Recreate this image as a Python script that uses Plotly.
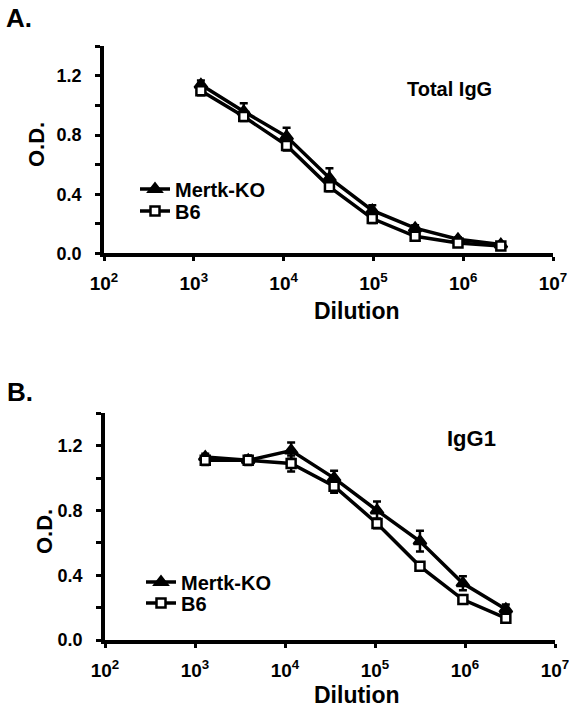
import plotly.graph_objects as go

# ---------------- data ----------------
dilution_a = [1200, 3600, 10800, 32400, 97200, 291600, 874800, 2624400]
mertk_a = [1.14, 0.96, 0.79, 0.51, 0.29, 0.17, 0.095, 0.06]
mertk_a_err = [0.03, 0.055, 0.06, 0.065, 0.035, 0.02, 0.012, 0.01]
b6_a = [1.10, 0.925, 0.73, 0.45, 0.235, 0.115, 0.07, 0.05]
b6_a_err = [0.03, 0.03, 0.035, 0.03, 0.03, 0.02, 0.01, 0.01]

dilution_b = [1300, 3900, 11700, 35100, 105300, 315900, 947700, 2843100]
mertk_b = [1.13, 1.11, 1.17, 1.00, 0.80, 0.61, 0.35, 0.19]
mertk_b_err = [0.02, 0.02, 0.05, 0.045, 0.055, 0.064, 0.043, 0.03]
b6_b = [1.11, 1.11, 1.09, 0.95, 0.72, 0.455, 0.25, 0.135]
b6_b_err = [0.03, 0.03, 0.05, 0.04, 0.03, 0.025, 0.025, 0.02]

x_tickvals = [1e2, 1e3, 1e4, 1e5, 1e6, 1e7]
x_ticktext = ["10<sup>2</sup>", "10<sup>3</sup>", "10<sup>4</sup>",
              "10<sup>5</sup>", "10<sup>6</sup>", "10<sup>7</sup>"]
y_tickvals = [0.0, 0.2, 0.4, 0.6, 0.8, 1.0, 1.2, 1.4]
y_ticktext = ["0.0", "", "0.4", "", "0.8", "", "1.2", ""]

series_names = ["Mertk-KO", "B6"]
panel_titles = ["Total IgG", "IgG1"]
panel_labels = ["A.", "B."]

# ---------------- figure ----------------
W, H = 569, 707
FONT = "Liberation Sans, Arial, Helvetica, sans-serif"

def px(x):
    return x / W

def py(y):
    return 1 - y / H

fig = go.Figure()

def add_series(x, y, err, name, xa, ya, legend, filled):
    fig.add_trace(go.Scatter(
        x=x, y=y, name=name, mode="lines+markers",
        xaxis=xa, yaxis=ya, legend=legend,
        line=dict(color="black", width=3.5),
        marker=dict(
            symbol="triangle-up" if filled else "square",
            size=11 if filled else 9,
            color="black" if filled else "white",
            line=dict(color="black", width=2.5),
        ),
        error_y=dict(type="data", array=err, visible=True,
                     color="black", thickness=2.5, width=4),
    ))

add_series(dilution_a, mertk_a, mertk_a_err, series_names[0], "x", "y", "legend", True)
add_series(dilution_a, b6_a, b6_a_err, series_names[1], "x", "y", "legend2", False)
add_series(dilution_b, mertk_b, mertk_b_err, series_names[0], "x2", "y2", "legend3", True)
add_series(dilution_b, b6_b, b6_b_err, series_names[1], "x2", "y2", "legend4", False)

xaxis_common = dict(
    type="log", range=[2, 7], tickvals=x_tickvals, ticktext=x_ticktext,
    showline=True, linecolor="black", linewidth=3.5, mirror=False,
    ticks="outside", ticklen=4, tickwidth=3, tickcolor="black",
    showgrid=False, zeroline=False, automargin=False,
    ticklabeloverflow="allow",
    tickfont=dict(family=FONT, size=19, color="black", weight="bold"),
    ticklabelstandoff=6,
)
yaxis_common = dict(
    range=[0, 1.4], tickvals=y_tickvals, ticktext=y_ticktext,
    showline=True, linecolor="black", linewidth=3.5, mirror=False,
    ticks="outside", ticklen=5, tickwidth=3, tickcolor="black",
    showgrid=False, zeroline=False, automargin=False,
    ticklabeloverflow="allow",
    tickfont=dict(family=FONT, size=18, color="black", weight="bold"),
    ticklabelstandoff=10,
)

LEG_FONT = dict(family=FONT, size=20, color="black", weight="bold")

def leg(x, y):
    return dict(x=px(x), y=py(y), xanchor="left", yanchor="middle",
                bgcolor="rgba(0,0,0,0)", font=LEG_FONT)

fig.update_layout(
    width=W, height=H,
    margin=dict(l=0, r=0, t=0, b=0, autoexpand=False),
    paper_bgcolor="white", plot_bgcolor="white",
    font=dict(family=FONT, color="black"),
    xaxis=dict(**xaxis_common, domain=[px(104), px(553)], anchor="y"),
    yaxis=dict(**yaxis_common, domain=[py(253.3), py(46.4)], anchor="x"),
    xaxis2=dict(**xaxis_common, domain=[px(105), px(555)], anchor="y2"),
    yaxis2=dict(**yaxis_common, domain=[py(640), py(413.3)], anchor="x2"),
    legend=leg(135, 189),
    legend2=leg(135, 211),
    legend3=leg(141, 582),
    legend4=leg(141, 603),
    showlegend=True,
)

def text(x, y, s, size, angle=0):
    fig.add_annotation(x=px(x), y=py(y), xref="paper", yref="paper",
                       text=s, showarrow=False, textangle=angle,
                       xanchor="center", yanchor="middle",
                       font=dict(family=FONT, size=size, color="black", weight="bold"))

# panel labels
text(19, 18, panel_labels[0], 26)
text(20, 392, panel_labels[1], 26)
# panel titles
text(449, 89, panel_titles[0], 20)
text(471, 438, panel_titles[1], 22)
# axis titles
text(357, 311, "Dilution", 23)
text(357, 695, "Dilution", 23)
text(37, 145, "O.D.", 22, -90)
text(44, 532, "O.D.", 22, -90)

fig.write_html("out.html",
               config={"displayModeBar": False},
               post_script="document.body.style.margin='0';document.body.style.overflow='hidden';")
